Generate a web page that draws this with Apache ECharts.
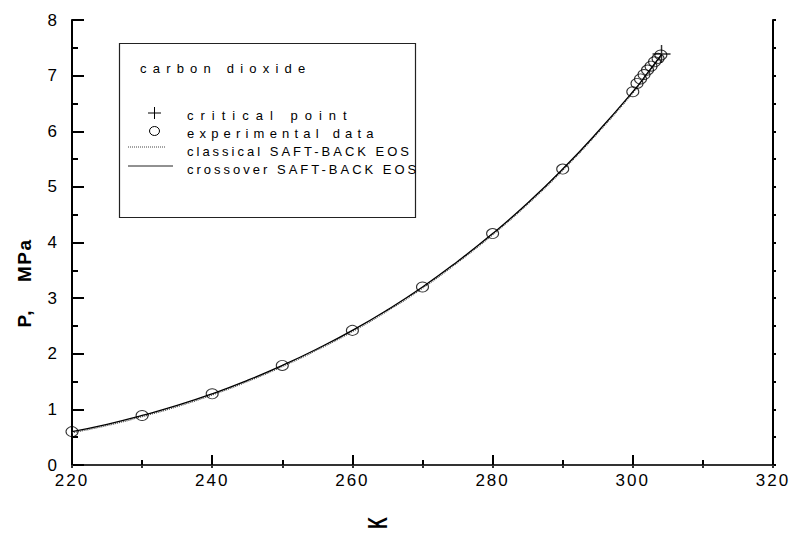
<!DOCTYPE html>
<html>
<head>
<meta charset="utf-8">
<script src="https://cdn.jsdelivr.net/npm/echarts@6/dist/echarts.min.js"></script>
<style>
  html, body { margin: 0; padding: 0; background: #fff; }
  #chart { width: 795px; height: 534px; }
</style>
</head>
<body>
<div id="chart"></div>
<script>
// experimental saturation pressure of CO2
const expT = [220, 230, 240, 250, 260, 270, 280, 290, 300, 300.6, 301.1, 301.6, 302.1, 302.6, 303.1, 303.6, 304.0];
const expP = [0.60, 0.89, 1.28, 1.79, 2.42, 3.20, 4.16, 5.32, 6.71, 6.86, 6.94, 7.02, 7.10, 7.17, 7.25, 7.31, 7.37];

// critical point
const critT = [304.1];
const critP = [7.39];

// model curves
const curveT = [220, 225, 230, 235, 240, 245, 250, 255, 260, 265, 270, 275, 280, 285, 290, 295, 300, 302, 304.1];
const crossP = [0.60, 0.73, 0.89, 1.07, 1.28, 1.52, 1.79, 2.09, 2.42, 2.79, 3.20, 3.66, 4.16, 4.71, 5.32, 5.99, 6.71, 7.03, 7.38];
const classP = [0.58, 0.71, 0.87, 1.05, 1.26, 1.50, 1.77, 2.07, 2.40, 2.77, 3.18, 3.64, 4.14, 4.69, 5.30, 5.97, 6.69, 7.01, 7.36];

const xTicks = { min: 220, max: 320, step: 20 };
const yTicks = { min: 0, max: 8, step: 1 };

const legendTitle = "carbon dioxide";
const legendNames = ["critical point", "experimental data", "classical SAFT-BACK EOS", "crossover SAFT-BACK EOS"];
const yTitle = "P,    MPa";
const xTitle = "K";

// letter spacing used by the original lettering
const spacing = {
  "carbon dioxide": 6.2,
  "critical point": 7.0,
  "experimental data": 5.2,
  "classical SAFT-BACK EOS": 3.0,
  "crossover SAFT-BACK EOS": 3.0,
  "P,    MPa": 1.5
};

const zip = (a, b) => a.map((v, i) => [v, b[i]]);
const font = "Liberation Sans, Arial, sans-serif";
const legendFont = "13px " + font;

const chart = echarts.init(document.getElementById("chart"), null, { renderer: "svg" });

const option = {
  animation: false,
  backgroundColor: "#fff",
  grid: { left: 72, top: 20, right: 22, bottom: 69 },
  xAxis: [
    {
      type: "value", min: xTicks.min, max: xTicks.max, interval: xTicks.step,
      axisLine: { lineStyle: { color: "#000", width: 2 } },
      axisTick: { inside: true, length: 10, lineStyle: { color: "#000", width: 2 } },
      minorTick: { show: true, splitNumber: 2, length: 5, lineStyle: { color: "#000", width: 2 } },
      axisLabel: { color: "#000", fontSize: 17, fontFamily: font, margin: 7 },
      splitLine: { show: false }
    },
    {
      type: "value", position: "top", min: xTicks.min, max: xTicks.max, interval: 10,
      axisLine: { lineStyle: { color: "#333", width: 2 } },
      axisTick: { inside: true, length: 3, lineStyle: { color: "#333", width: 2 } },
      axisLabel: { show: false },
      splitLine: { show: false }
    }
  ],
  yAxis: [
    {
      type: "value", min: yTicks.min, max: yTicks.max, interval: yTicks.step,
      axisLine: { show: true, lineStyle: { color: "#000", width: 2 } },
      axisTick: { show: true, inside: true, length: 12, lineStyle: { color: "#000", width: 2 } },
      minorTick: { show: true, splitNumber: 2, length: 6, lineStyle: { color: "#000", width: 2 } },
      axisLabel: { color: "#000", fontSize: 17, fontFamily: font, margin: 13 },
      splitLine: { show: false }
    },
    {
      type: "value", position: "right", min: yTicks.min, max: yTicks.max, interval: 0.5,
      axisLine: { show: true, lineStyle: { color: "#000", width: 2 } },
      axisTick: { show: true, inside: false, length: 3, lineStyle: { color: "#000", width: 2 } },
      axisLabel: { show: false },
      splitLine: { show: false }
    }
  ],
  series: [
    {
      name: legendNames[2], type: "line", smooth: true, showSymbol: false,
      data: zip(curveT, classP),
      lineStyle: { color: "#444", width: 1.3, type: [1, 1] }, z: 2
    },
    {
      name: legendNames[3], type: "line", smooth: true, showSymbol: false,
      data: zip(curveT, crossP),
      lineStyle: { color: "#000", width: 1.3 }, z: 3
    },
    {
      name: legendNames[1], type: "scatter",
      data: zip(expT, expP),
      symbol: "circle", symbolSize: [12, 10],
      itemStyle: { color: "rgba(0,0,0,0)", borderColor: "#000", borderWidth: 1 }, z: 4
    },
    {
      name: legendNames[0], type: "scatter",
      data: zip(critT, critP),
      symbol: "path://M0,4.6h10v0.8h-10zM4.6,0h0.8v10h-0.8z", symbolSize: 18,
      itemStyle: { color: "#000" }, z: 5
    }
  ],
  graphic: [
    { type: "rect", silent: true, shape: { x: 119.5, y: 43.5, width: 296, height: 174 },
      style: { fill: "#fff", stroke: "#222", lineWidth: 1.2 }, z: 10 },
    { type: "text", silent: true, x: 140, y: 68, z: 11,
      style: { text: legendTitle, font: legendFont, fill: "#000", verticalAlign: "middle" } },
    { type: "line", silent: true, z: 11, shape: { x1: 148, y1: 113, x2: 161, y2: 113 }, style: { stroke: "#000", lineWidth: 1 } },
    { type: "line", silent: true, z: 11, shape: { x1: 154.5, y1: 107, x2: 154.5, y2: 119 }, style: { stroke: "#000", lineWidth: 1 } },
    { type: "ellipse", silent: true, z: 11, shape: { cx: 154.5, cy: 131, rx: 5, ry: 4.5 }, style: { fill: "none", stroke: "#000", lineWidth: 1 } },
    { type: "line", silent: true, z: 11, shape: { x1: 128, y1: 147, x2: 166, y2: 147 }, style: { stroke: "#444", lineWidth: 1, lineDash: [1, 1] } },
    { type: "line", silent: true, z: 11, shape: { x1: 128, y1: 166, x2: 173, y2: 166 }, style: { stroke: "#222", lineWidth: 1 } },
    { type: "text", silent: true, x: 187, y: 115, z: 11,
      style: { text: legendNames[0], font: legendFont, fill: "#000", verticalAlign: "middle" } },
    { type: "text", silent: true, x: 187, y: 133, z: 11,
      style: { text: legendNames[1], font: legendFont, fill: "#000", verticalAlign: "middle" } },
    { type: "text", silent: true, x: 187, y: 151, z: 11,
      style: { text: legendNames[2], font: legendFont, fill: "#000", verticalAlign: "middle" } },
    { type: "text", silent: true, x: 187, y: 169, z: 11,
      style: { text: legendNames[3], font: legendFont, fill: "#000", verticalAlign: "middle" } },
    // axis titles
    { type: "text", silent: true, x: 24, y: 283, rotation: Math.PI / 2, z: 11,
      style: { text: yTitle, font: "bold 19px " + font, fill: "#000", align: "center", verticalAlign: "middle" } },
    { type: "text", silent: true, x: 378, y: 523, rotation: Math.PI / 2, scaleX: 0.6, z: 11,
      style: { text: xTitle, font: "bold 27px " + font, fill: "#000", align: "center", verticalAlign: "middle" } }
  ]
};

chart.setOption(option);

// the original lettering is widely spaced; apply it to the legend, titles and tick numbers
function spaceText() {
  document.querySelectorAll("#chart text").forEach(t => {
    const txt = t.textContent;
    let s = spacing[txt];
    if (s === undefined && /^\d+$/.test(txt)) s = 2;
    if (s !== undefined) t.setAttribute("letter-spacing", s);
  });
}
spaceText();
chart.on("finished", spaceText);
</script>
</body>
</html>
